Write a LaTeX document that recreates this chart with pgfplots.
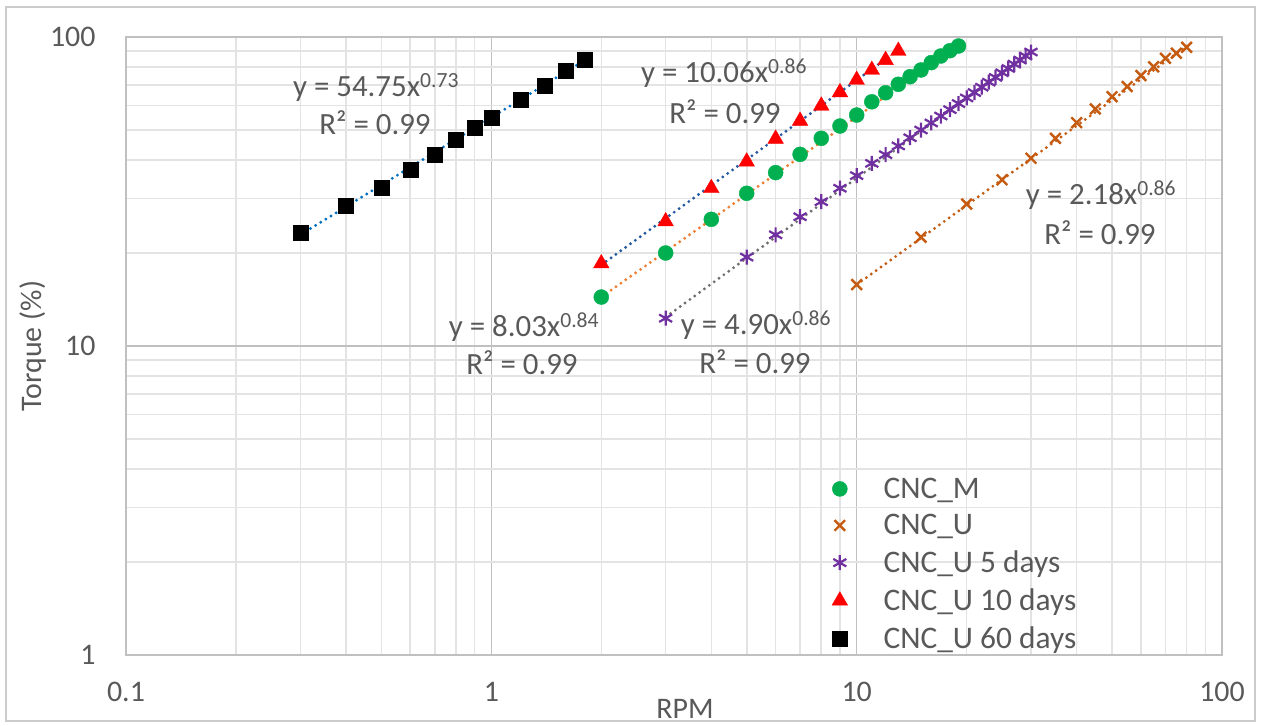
\documentclass[border=0pt]{standalone}
\usepackage{pgfplots}
\pgfplotsset{compat=1.18}
\usepackage{fontspec}
\setmainfont{Carlito}
\definecolor{txtgray}{HTML}{595959}
\definecolor{mgreen}{HTML}{00B050}
\definecolor{mbrown}{HTML}{C55A11}
\definecolor{mpurple}{HTML}{7030A0}
\definecolor{mred}{HTML}{FF0000}
\definecolor{tblue}{HTML}{0070C0}
\definecolor{tnavy}{HTML}{2458A0}
\definecolor{torange}{HTML}{ED7D31}
\definecolor{tgray}{HTML}{6F6F6F}
\definecolor{majgrid}{HTML}{C0C0C0}
\definecolor{mingrid}{HTML}{E3E3E3}

\pgfplotstableread{
x y
0.3 23.3
0.4 28.4
0.5 32.5
0.6 37.1
0.7 41.7
0.8 46.4
0.9 50.9
1.0 55.0
1.2 62.9
1.4 69.8
1.6 77.6
1.8 84.2
}\sixty
\pgfplotstableread{
x y
2 18.5
3 25.3
4 32.4
5 39.5
6 46.8
7 53.5
8 59.9
9 66.2
10 72.6
11 78.2
12 84.2
13 90.1
}\ten
\pgfplotstableread{
x y
2 14.4
3 20.0
4 25.7
5 31.2
6 36.4
7 41.7
8 47.0
9 51.5
10 55.9
11 61.7
12 66.0
13 70.3
14 74.4
15 78.2
16 82.6
17 86.8
18 90.3
19 93.5
}\cncm
\pgfplotstableread{
x y
3 12.3
5 19.4
6 22.9
7 26.2
8 29.3
9 32.4
10 35.6
11 39.0
12 41.6
13 44.4
14 47.2
15 50.0
16 52.7
17 55.5
18 58.2
19 60.9
20 63.5
21 66.1
22 68.8
23 71.4
24 74.0
25 76.6
26 79.1
27 81.7
28 84.2
29 86.8
30 89.4
}\five
\pgfplotstableread{
x y
10 15.8
15 22.5
20 28.8
25 34.5
30 40.5
35 47.0
40 52.8
45 58.5
50 64.1
55 69.1
60 75.0
65 80.1
70 85.3
75 88.6
80 92.6
}\cncu

\begin{document}
\begin{tikzpicture}[x=1bp,y=1bp]
\useasboundingbox (0,0) rectangle (1261,726);
\draw[draw=mingrid!90!black, line width=1.2bp] (6,5) rectangle (1255,719);
\begin{axis}[
  at={(126bp,71bp)}, anchor=south west,
  width=1096bp, height=618bp, scale only axis,
  xmode=log, ymode=log,
  xmin=0.1, xmax=100, ymin=1, ymax=100,
  xtick={0.1,1,10,100}, xticklabels={0.1,1,10,100},
  ytick={1,10,100}, yticklabels={1,10,100},
  minor xtick={0.2,0.3,0.4,0.5,0.6,0.7,0.8,0.9,2,3,4,5,6,7,8,9,20,30,40,50,60,70,80,90},
  minor ytick={2,3,4,5,6,7,8,9,20,30,40,50,60,70,80,90},
  grid=both,
  major grid style={draw=majgrid, line width=1.6bp},
  minor grid style={draw=mingrid, line width=1.6bp},
  major tick length=0pt, minor tick length=0pt,
  axis line style={draw=majgrid, line width=1.6bp},
  tick label style={font=\fontsize{30}{32}\selectfont, text=txtgray},
  xticklabel style={yshift=-24bp},
  yticklabel style={xshift=-27bp},
  xlabel={RPM}, ylabel={Torque (\%)},
  every axis x label/.style={at={(axis description cs:0.5,0)}, anchor=center, yshift=-54bp, xshift=11bp, font=\fontsize{30}{32}\selectfont, text=txtgray},
  every axis y label/.style={at={(axis description cs:0,0.5)}, anchor=center, xshift=-93bp, rotate=90, font=\fontsize{30}{32}\selectfont, text=txtgray},
  legend style={at={(0.644,0.290)}, anchor=north west, draw=none, fill=none,
    font=\fontsize{31.5}{34}\selectfont, text=txtgray, row sep=10.7bp, inner sep=0pt,
    /tikz/every odd column/.append style={column sep=34bp}},
  legend cell align=left,
]
\addplot[only marks, mark=*, mark size=7.5bp, mgreen, mark options={draw=mgreen, fill=mgreen}] table {\cncm};
\addlegendentry{CNC\_M}
\addplot[only marks, mark=x, mark size=7.5bp, mbrown, line width=2.4bp] table {\cncu};
\addlegendentry{CNC\_U}
\addplot[only marks, mark=asterisk, mark size=7.5bp, mpurple, line width=2.2bp] table {\five};
\addlegendentry{CNC\_U 5 days}
\addplot[only marks, mark=triangle*, mark size=9bp, mred, mark options={draw=mred, fill=mred}] table {\ten};
\addlegendentry{CNC\_U 10 days}
\addplot[only marks, mark=square*, mark size=7.5bp, black, mark options={draw=black, fill=black}] table {\sixty};
\addlegendentry{CNC\_U 60 days}
% trendlines
\addplot[forget plot, tblue, line width=3.2bp, line cap=round, dash pattern=on 0bp off 6bp] coordinates {(0.3,22.9) (1.8,84.1)};
\addplot[forget plot, tnavy, line width=3.2bp, line cap=round, dash pattern=on 0bp off 6bp] coordinates {(2,18.3) (13,90.8)};
\addplot[forget plot, torange, line width=3.2bp, line cap=round, dash pattern=on 0bp off 6bp] coordinates {(2,14.4) (19,94.2)};
\addplot[forget plot, tgray, line width=3.2bp, line cap=round, dash pattern=on 0bp off 6bp] coordinates {(3,12.4) (30,90.0)};
\addplot[forget plot, mbrown, line width=3.2bp, line cap=round, dash pattern=on 0bp off 6bp] coordinates {(10,15.8) (80,93.3)};
\end{axis}
\begin{scope}[every node/.style={font=\fontsize{31}{34}\selectfont, text=txtgray, inner sep=0pt}]
\node at (376,726-87) {y = 54.75x\textsuperscript{0.73}};
\node at (375,726-123) {R² = 0.99};
\node at (724,726-73) {y = 10.06x\textsuperscript{0.86}};
\node at (725,726-112) {R² = 0.99};
\node at (1101,726-195) {y = 2.18x\textsuperscript{0.86}};
\node at (1100,726-233) {R² = 0.99};
\node at (524,726-327) {y = 8.03x\textsuperscript{0.84}};
\node at (522,726-363) {R² = 0.99};
\node at (756,726-325) {y = 4.90x\textsuperscript{0.86}};
\node at (755,726-362) {R² = 0.99};
\end{scope}
\end{tikzpicture}
\end{document}
